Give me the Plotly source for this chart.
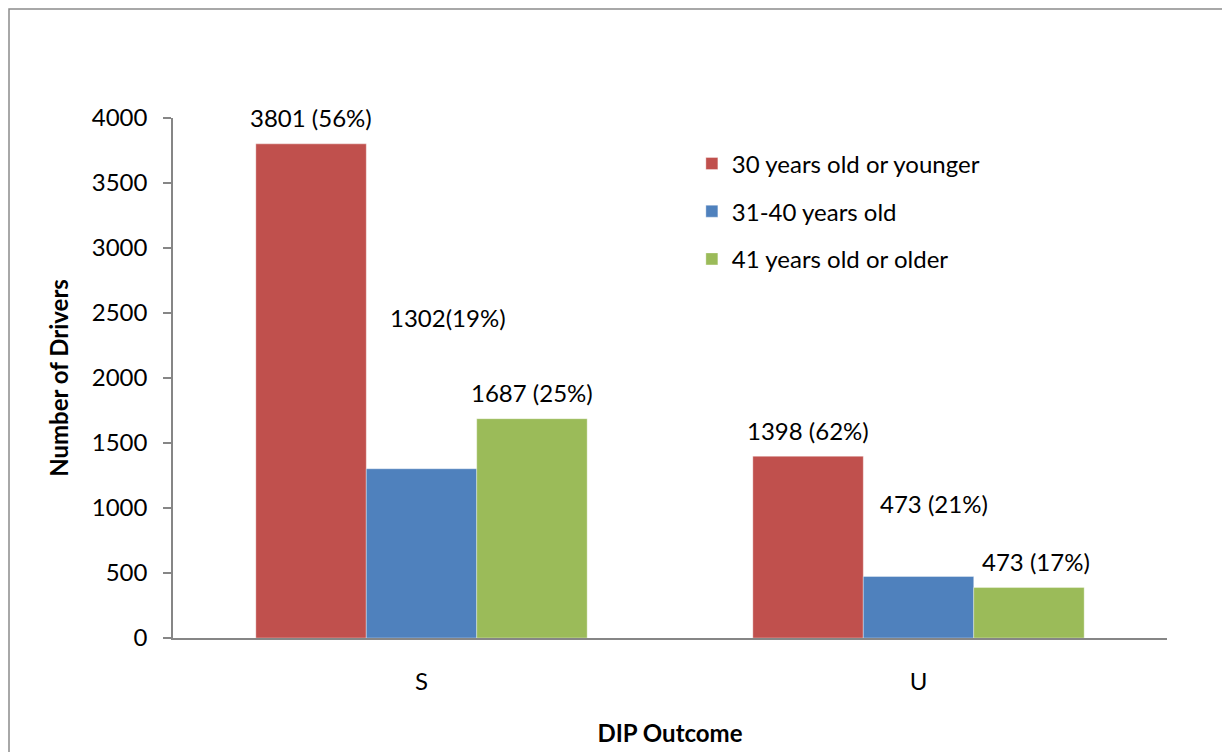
import plotly.graph_objects as go

categories = ["S", "U"]
series_names = ["30 years old or younger", "31-40 years old", "41 years old or older"]
young = [3801, 1398]
middle = [1302, 473]
older = [1687, 388]
labels_young = ["3801 (56%)", "1398 (62%)"]
labels_middle = ["1302(19%)", "473 (21%)"]
labels_older = ["1687 (25%)", "473 (17%)"]
y_ticks = [0, 500, 1000, 1500, 2000, 2500, 3000, 3500, 4000]

colors = ["#C0504D", "#4F81BD", "#9BBB59"]
FONT = "Lato"
FS = 24

series_values = [young, middle, older]
series_labels = [labels_young, labels_middle, labels_older]
# per-label pixel nudges (xshift, yshift) mimicking manually placed labels
nudges = [
    [(0, 26), (0, 26)],
    [(26, 151), (15, 73)],
    [(0, 26), (7, 26)],
]

W, H = 1222, 744
L, R, T, B = 165, 63, 110, 114
PW, PH = W - L - R, H - T - B

fig = go.Figure()
for j, (name, vals) in enumerate(zip(series_names, series_values)):
    fig.add_trace(go.Bar(
        x=categories, y=vals, name=name,
        marker=dict(color=colors[j], line=dict(color="rgba(255,255,255,0.35)", width=1)),
        legendgroup=f"g{j}",
        hoverinfo="skip",
    ))

bargap = 1 / 3
bw = (1 - bargap) / 3
annotations = []
for j in range(3):
    for i in range(len(categories)):
        dx, dy = nudges[j][i]
        annotations.append(dict(
            x=i + (j - 1) * bw, y=series_values[j][i], xref="x", yref="y",
            text=series_labels[j][i], showarrow=False,
            xanchor="center", yanchor="middle",
            xshift=dx, yshift=dy,
            font=dict(family=FONT, size=FS, color="#000000"),
        ))

fig.update_layout(
    width=W, height=H,
    margin=dict(l=L, r=R, t=T, b=B, autoexpand=False),
    paper_bgcolor="white", plot_bgcolor="white",
    barmode="group", bargap=bargap, bargroupgap=0,
    font=dict(family=FONT, size=FS, color="#000000"),
    annotations=annotations,
    showlegend=True,
    legend=dict(
        x=0.522, y=0.955, xanchor="left", yanchor="top",
        font=dict(family=FONT, size=FS, color="#000000"),
        bgcolor="rgba(0,0,0,0)", tracegroupgap=13.5, traceorder="grouped",
        itemwidth=30,
    ),
    shapes=[dict(
        type="rect", xref="paper", yref="paper",
        x0=(1 - L) / PW, x1=(1220 - L) / PW,
        y0=-(B + 20) / PH, y1=(PH + T - 1) / PH,
        line=dict(color="#8C8C8C", width=1.5), fillcolor="rgba(0,0,0,0)", layer="below",
    )],
)

fig.update_xaxes(
    type="category", range=[-0.5, 1.5],
    showline=True, linecolor="#868686", linewidth=1.5,
    showgrid=False, ticks="", ticklabelstandoff=21,
    tickfont=dict(family=FONT, size=FS),
    title=dict(text="<b>DIP Outcome</b>", font=dict(family=FONT, size=24), standoff=32),
    automargin=False,
)
fig.update_yaxes(
    range=[0, 4000], tickvals=y_ticks,
    showline=True, linecolor="#868686", linewidth=1.5,
    showgrid=False, zeroline=False, ticks="outside", ticklen=8, tickcolor="#868686", tickwidth=1.5,
    ticklabelstandoff=11,
    tickfont=dict(family=FONT, size=FS),
    title=dict(text="<b>Number of Drivers</b>", font=dict(family=FONT, size=24), standoff=16),
    automargin=False,
)

fig.write_html("out.html")
